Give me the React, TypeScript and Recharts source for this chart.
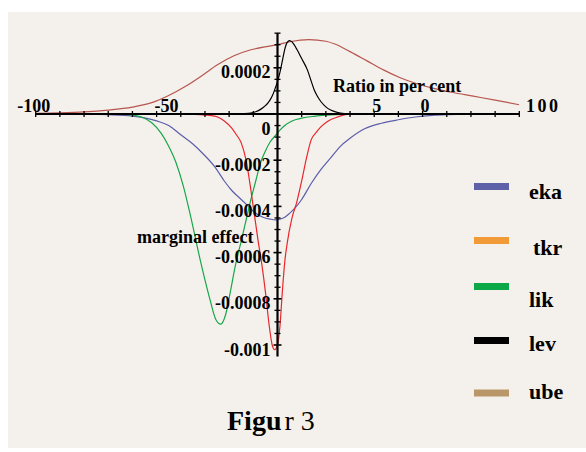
import React from 'react';
import { LineChart, Line, XAxis, YAxis, ReferenceLine, ReferenceDot } from 'recharts';

// ---- data (x = ratio in per cent, y = marginal effect) ----
const eka = [
  { x: -100, y: 0 }, { x: -80, y: -0.000001 }, { x: -70, y: -0.000003 }, { x: -60, y: -0.000009 },
  { x: -55, y: -0.000017 }, { x: -50, y: -0.00003 }, { x: -45, y: -0.00005 }, { x: -40, y: -0.00009 },
  { x: -35, y: -0.00013 }, { x: -31, y: -0.00017 }, { x: -26, y: -0.000228 }, { x: -22, y: -0.00029 },
  { x: -19, y: -0.00033 }, { x: -15, y: -0.00037 }, { x: -12, y: -0.0004 }, { x: -9, y: -0.00043 },
  { x: -6, y: -0.000447 }, { x: -3, y: -0.000455 }, { x: -1, y: -0.000458 }, { x: 1, y: -0.000455 },
  { x: 3, y: -0.000447 }, { x: 5, y: -0.00043 }, { x: 7, y: -0.00041 }, { x: 10, y: -0.00037 },
  { x: 14, y: -0.0003 }, { x: 18, y: -0.00024 }, { x: 22, y: -0.00019 }, { x: 26, y: -0.00014 },
  { x: 30, y: -0.000105 }, { x: 36, y: -0.000064 }, { x: 43, y: -0.00004 }, { x: 50, y: -0.000025 },
  { x: 57, y: -0.000013 }, { x: 64, y: -0.000006 }, { x: 70, y: -0.000003 }, { x: 80, y: -0.000001 },
  { x: 100, y: 0 },
];

const tkr = [
  { x: -100, y: 0 }, { x: -40, y: 0 }, { x: -32, y: -0.000003 }, { x: -28, y: -0.000006 },
  { x: -25, y: -0.000012 }, { x: -22, y: -0.00003 }, { x: -19, y: -0.00006 }, { x: -17, y: -0.00009 },
  { x: -15, y: -0.000125 }, { x: -13, y: -0.0002 }, { x: -11, y: -0.00033 }, { x: -9.5, y: -0.00044 },
  { x: -8, y: -0.00055 }, { x: -6.5, y: -0.00065 }, { x: -5, y: -0.00077 }, { x: -3.5, y: -0.00091 },
  { x: -2.2, y: -0.001 }, { x: -1.2, y: -0.00102 }, { x: 0, y: -0.001 }, { x: 1, y: -0.00092 },
  { x: 2, y: -0.00077 }, { x: 3, y: -0.00064 }, { x: 4, y: -0.00056 }, { x: 6, y: -0.00045 },
  { x: 8, y: -0.00038 }, { x: 10, y: -0.00029 }, { x: 12, y: -0.00019 }, { x: 14, y: -0.00011 },
  { x: 16, y: -0.00008 }, { x: 18, y: -0.000055 }, { x: 21, y: -0.00003 }, { x: 24, y: -0.000016 },
  { x: 29, y: -0.000002 }, { x: 35, y: 0 }, { x: 100, y: 0 },
];

const lik = [
  { x: -100, y: 0 }, { x: -75, y: 0 }, { x: -66, y: -0.000001 }, { x: -60, y: -0.000005 },
  { x: -56, y: -0.000014 }, { x: -52, y: -0.000038 }, { x: -48, y: -0.000085 }, { x: -45, y: -0.00014 },
  { x: -42, y: -0.00021 }, { x: -39, y: -0.00031 }, { x: -36, y: -0.00044 }, { x: -32, y: -0.00063 },
  { x: -28, y: -0.0008 }, { x: -25.5, y: -0.00089 }, { x: -23.5, y: -0.00091 }, { x: -21.5, y: -0.00087 },
  { x: -19.5, y: -0.00077 }, { x: -17.5, y: -0.00066 }, { x: -15, y: -0.00055 }, { x: -13, y: -0.00046 },
  { x: -11, y: -0.00037 }, { x: -9, y: -0.00029 }, { x: -7, y: -0.00021 }, { x: -5, y: -0.00016 },
  { x: -3, y: -0.00012 }, { x: -1, y: -0.000095 }, { x: 1, y: -0.00007 }, { x: 3, y: -0.00005 },
  { x: 6, y: -0.00003 }, { x: 10, y: -0.000018 }, { x: 15, y: -0.00001 }, { x: 20, y: -0.000005 },
  { x: 30, y: -0.000001 }, { x: 40, y: 0 }, { x: 100, y: 0 },
];

const lev = [
  { x: -100, y: 0 }, { x: -30, y: 0 }, { x: -16, y: 0.000001 }, { x: -12, y: 0.000003 },
  { x: -9, y: 0.00001 }, { x: -7, y: 0.00002 }, { x: -5, y: 0.000036 }, { x: -4, y: 0.000047 },
  { x: -3, y: 0.000062 }, { x: -2, y: 0.000082 }, { x: -1, y: 0.00011 }, { x: 0, y: 0.00014 },
  { x: 1, y: 0.00018 }, { x: 2, y: 0.00023 }, { x: 3, y: 0.00028 }, { x: 4, y: 0.00031 },
  { x: 5, y: 0.000318 }, { x: 6, y: 0.000312 }, { x: 7, y: 0.000298 }, { x: 8, y: 0.00028 },
  { x: 10, y: 0.00024 }, { x: 12.4, y: 0.00019 }, { x: 14, y: 0.00014 }, { x: 15.2, y: 0.000104 },
  { x: 16.5, y: 0.000077 }, { x: 18, y: 0.000053 }, { x: 20, y: 0.000031 }, { x: 22, y: 0.000017 },
  { x: 24, y: 0.000009 }, { x: 26, y: 0.000004 }, { x: 30, y: 0.000001 }, { x: 35, y: 0 },
  { x: 100, y: 0 },
];

const ube = [
  { x: -100, y: 0.000003 }, { x: -90, y: 0.000005 }, { x: -80, y: 0.000009 }, { x: -70, y: 0.000017 },
  { x: -60, y: 0.00003 }, { x: -52, y: 0.000049 }, { x: -45, y: 0.00008 }, { x: -38, y: 0.00012 },
  { x: -31, y: 0.000168 }, { x: -25, y: 0.000212 }, { x: -18, y: 0.000252 }, { x: -11, y: 0.000278 },
  { x: -4, y: 0.000293 }, { x: 0, y: 0.0003 }, { x: 5.5, y: 0.000314 }, { x: 13, y: 0.000322 },
  { x: 20, y: 0.000315 }, { x: 24, y: 0.000302 }, { x: 30, y: 0.00027 }, { x: 37, y: 0.00023 },
  { x: 44, y: 0.00019 }, { x: 51, y: 0.000156 }, { x: 58, y: 0.00013 }, { x: 65, y: 0.00011 },
  { x: 72, y: 0.000094 }, { x: 81, y: 0.000077 }, { x: 90, y: 0.00006 }, { x: 100, y: 0.00004 },
];

// axis ticks / labels
const xTickValues = [-100, -90, -80, -70, -60, -50, -40, -30, -20, -10, 10, 20, 30, 40, 50, 60, 70, 80, 90, 100];
const xTickLabels = ['-100', '-50', '5', '0', '100'];
const xTickLabelAt = [-100, -50, 41, 61, 100];
const yMajorTicks = [0.0002, -0.0002, -0.0004, -0.0006, -0.0008, -0.001];
const yMajorLabels = ['0.0002', '-0.0002', '-0.0004', '-0.0006', '-0.0008', '-0.001'];
const yMinorTicks: number[] = [];
for (let i = -21; i <= 7; i++) {
  if (i % 4 !== 0) yMinorTicks.push(i * 0.00005);
}

// legend
const legendNames = ['eka', 'tkr', 'lik', 'lev', 'ube'];
const legendColors = ['#5F61A8', '#F29A38', '#0AA846', '#000000', '#B99768'];

// ---- layout / styles ----
const W = 586;
const H = 452;
const FONT = '"Liberation Serif", "Times New Roman", serif';
const xLabelDx = [-2, 10, 0, 0, 24];
const xLabelSpacing = [0, 0, 0, 0, 2.5];
const legendSwatchY = [183, 237, 283, 337, 389.5];
const legendTextX = [529, 533, 529, 529, 529];
const legendTextY = [199, 255, 307, 351, 399];

const seriesStyle = [
  { key: 'ube', data: ube, color: '#B8554F' },
  { key: 'eka', data: eka, color: '#5B5EAA' },
  { key: 'lik', data: lik, color: '#16A748' },
  { key: 'tkr', data: tkr, color: '#E8262B' },
  { key: 'lev', data: lev, color: '#000000' },
];

export default function App() {
  return (
    <div style={{ position: 'absolute', left: 0, top: 0, width: W, height: H, background: '#ffffff', overflow: 'hidden' }}>
      <div style={{ position: 'absolute', left: 8, top: 12, width: W - 8, height: 436, background: '#F4F1EC' }} />
      <div style={{ position: 'absolute', left: 0, top: 0 }}>
        <LineChart width={W} height={H} margin={{ top: 33.15, right: 66.7, bottom: 95.45, left: 35.7 }}>
          <XAxis type="number" dataKey="x" domain={[-100, 100]} hide allowDataOverflow />
          <YAxis type="number" dataKey="y" domain={[-0.00105, 0.00035]} hide allowDataOverflow />
          {seriesStyle.map((s) => (
            <Line
              key={s.key}
              data={s.data}
              dataKey="y"
              name={s.key}
              type="monotone"
              stroke={s.color}
              strokeWidth={1.2}
              dot={false}
              activeDot={false}
              isAnimationActive={false}
            />
          ))}
          <ReferenceLine y={0} stroke="#000" strokeWidth={2.2} />
          <ReferenceLine x={0} stroke="#000" strokeWidth={2.2} />
          {xTickValues.map((v) => (
            <ReferenceDot
              key={'xt' + v}
              x={v}
              y={0}
              r={0}
              shape={(p: any) => (
                <line x1={p.cx} x2={p.cx} y1={p.cy - 3} y2={p.cy + 3} stroke="#000" strokeWidth={1.3} />
              )}
            />
          ))}
          {xTickLabels.map((t, i) => (
            <ReferenceDot
              key={'xl' + i}
              x={xTickLabelAt[i]}
              y={0}
              r={0}
              shape={(p: any) => (
                <text
                  x={p.cx + xLabelDx[i]}
                  y={p.cy - 2}
                  textAnchor="middle"
                  fontFamily={FONT}
                  fontWeight="bold"
                  fontSize={18}
                  letterSpacing={xLabelSpacing[i]}
                  fill="#000"
                >
                  {t}
                </text>
              )}
            />
          ))}
          {yMinorTicks.map((v) => (
            <ReferenceDot
              key={'ym' + v}
              x={0}
              y={v}
              r={0}
              shape={(p: any) => (
                <line x1={p.cx - 3} x2={p.cx + 3} y1={p.cy} y2={p.cy} stroke="#000" strokeWidth={1.3} />
              )}
            />
          ))}
          {yMajorTicks.map((v, i) => (
            <ReferenceDot
              key={'yM' + v}
              x={0}
              y={v}
              r={0}
              shape={(p: any) => (
                <g>
                  <line x1={p.cx - 4} x2={p.cx + 4} y1={p.cy} y2={p.cy} stroke="#000" strokeWidth={1.6} />
                  <text
                    x={p.cx - 7}
                    y={p.cy + 10.5}
                    textAnchor="end"
                    fontFamily={FONT}
                    fontWeight="bold"
                    fontSize={18}
                    fill="#000"
                  >
                    {yMajorLabels[i]}
                  </text>
                </g>
              )}
            />
          ))}
          <ReferenceDot
            x={0}
            y={0}
            r={0}
            shape={(p: any) => (
              <text x={p.cx - 7} y={p.cy + 21} textAnchor="end" fontFamily={FONT} fontWeight="bold" fontSize={18} fill="#000">
                0
              </text>
            )}
          />
        </LineChart>
      </div>
      <svg width={W} height={H} style={{ position: 'absolute', left: 0, top: 0, pointerEvents: 'none' }}>
        <text x={333} y={92} fontFamily={FONT} fontWeight="bold" fontSize={18} fill="#000">
          Ratio in per cent
        </text>
        <text x={137} y={243} fontFamily={FONT} fontWeight="bold" fontSize={18} fill="#000">
          marginal effect
        </text>
        {legendNames.map((n, i) => (
          <g key={n}>
            <rect x={474} y={legendSwatchY[i]} width={35} height={7} fill={legendColors[i]} />
            <text x={legendTextX[i]} y={legendTextY[i]} fontFamily={FONT} fontWeight="bold" fontSize={22} fill="#000">
              {n}
            </text>
          </g>
        ))}
        <text x={227} y={430} fontFamily={FONT} fontSize={28} fill="#000">
          <tspan fontWeight="bold">Figu</tspan>
          <tspan dx={3}>r 3</tspan>
        </text>
      </svg>
    </div>
  );
}
